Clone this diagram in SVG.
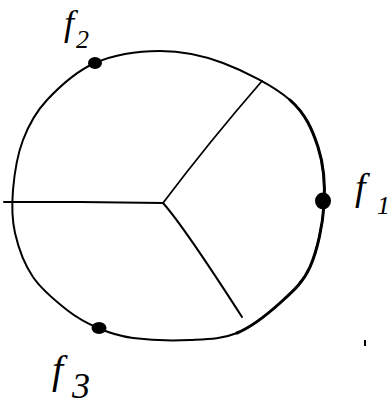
<svg xmlns="http://www.w3.org/2000/svg" width="391" height="407" viewBox="0 0 391 407">
<style>
.ln{fill:none;stroke:#000;stroke-linecap:round;stroke-linejoin:round}
.dot{fill:#000}
.lbl{font-family:"Liberation Serif","DejaVu Serif",serif;font-style:italic;fill:#000}
</style>
<rect width="391" height="407" fill="#fff"/>
<g id="boundary">
<path class="ln" stroke-width="2" d="M95,63 C113.8,54.8 138.7,51 160,51 C181.3,51 201.3,54.8 223,63 C244.7,71.2 274.2,86 290,100 C305.8,114 312.3,129.5 318,147 C323.7,164.5 325.3,185 324,205 C322.7,225 317.3,250.7 310,267 C302.7,283.3 292.2,292 280,303 C267.8,314 252,326.8 237,333 C222,339.2 207.3,339.2 190,340 C172.7,340.8 148.3,340 133,338 C117.7,336 109,332.7 98,328 C87,323.3 77.8,318.5 67,310 C56.2,301.5 41.7,289.8 33,277 C24.3,264.2 18.3,247.5 15,233 C11.7,218.5 11.7,205.5 13,190 C14.3,174.5 17.3,155 23,140 C28.7,125 35,112.8 47,100 C59,87.2 76.2,71.2 95,63 Z"/>
<path class="ln" stroke-width="3" d="M290,100 C305.8,114 312.3,129.5 318,147 C323.7,164.5 325.3,185 324,205 C322.7,225 317.3,250.7 310,267 C302.7,283.3 292.2,292 280,303 C267.8,314 252,326.8 237,333"/>
</g>
<g id="connectors">
<path class="ln" stroke-width="2" d="M4,202 L80,202 L163,203"/>
<path class="ln" stroke-width="1.8" d="M163,203 Q209,142 262,81"/>
<path class="ln" stroke-width="2" d="M163,203 C180,222 215,275 242,317"/>
</g>
<g id="f1">
<ellipse class="dot" cx="323" cy="201" rx="8" ry="8.5"/>
<text class="lbl" x="355" y="200" font-size="38">f</text>
<text class="lbl" x="377" y="214" font-size="26">1</text>
</g>
<g id="f2">
<ellipse class="dot" cx="95" cy="63" rx="7" ry="6"/>
<text class="lbl" x="64" y="35" font-size="36">f</text>
<text class="lbl" x="76" y="48" font-size="26">2</text>
</g>
<g id="f3">
<ellipse class="dot" cx="99" cy="328" rx="7.5" ry="6"/>
<text class="lbl" x="52" y="383" font-size="40">f</text>
<text class="lbl" x="72" y="398" font-size="36">3</text>
</g>
<g id="mark">
<rect x="364" y="340" width="2" height="6" fill="#000"/>
</g>
</svg>
